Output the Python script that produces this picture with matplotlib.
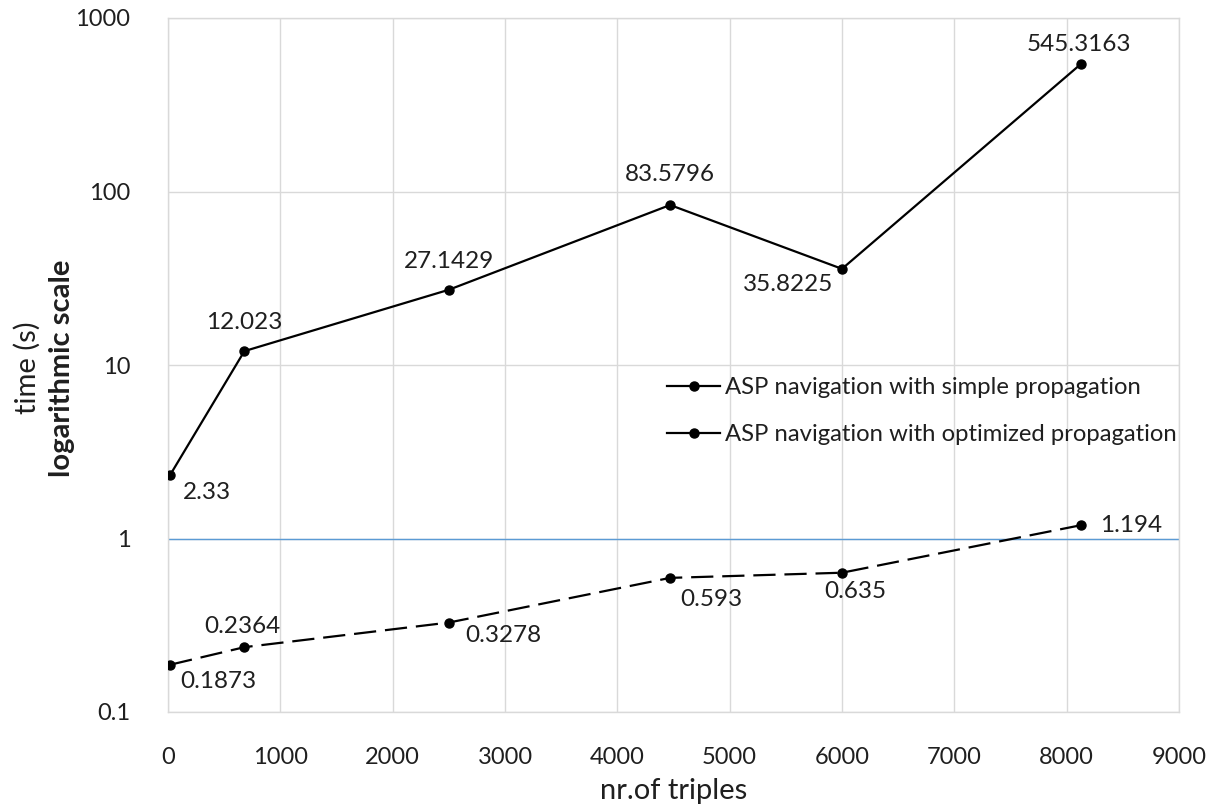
"""Runtime of ASP navigation vs number of triples (log scale)."""

import matplotlib
matplotlib.use("Agg")
import matplotlib.pyplot as plt
import matplotlib.ticker as mticker

# --- data ---
triples = [20, 680, 2500, 4470, 6000, 8130]
simple_time = [2.33, 12.023, 27.1429, 83.5796, 35.8225, 545.3163]
optimized_time = [0.1873, 0.2364, 0.3278, 0.593, 0.635, 1.194]
simple_labels = ["2.33", "12.023", "27.1429", "83.5796", "35.8225", "545.3163"]
optimized_labels = ["0.1873", "0.2364", "0.3278", "0.593", "0.635", "1.194"]

x_ticks = [0, 1000, 2000, 3000, 4000, 5000, 6000, 7000, 8000, 9000]
y_ticks = [0.1, 1, 10, 100, 1000]
y_tick_labels = ["0.1", "1", "10", "100", "1000"]

# --- style ---
FONT = "Lato"
FS_TICK = 17
FS_LABEL = 17.5
FS_LEGEND = 17.2
FS_TITLE = 21
GRID = "#d9d9d9"
BLUE = "#5b9bd5"
TEXT = "#1f1f1f"

plt.rcParams["font.family"] = [FONT, "DejaVu Sans"]

fig = plt.figure(figsize=(12.15, 8.07), dpi=100)
ax = fig.add_axes([168 / 1215, 1 - 712 / 807, (1179 - 168) / 1215, (712 - 18) / 807])

ax.set_yscale("log")
ax.set_xlim(0, 9000)
ax.set_ylim(0.1, 1000)

ax.grid(True, which="major", color=GRID, linewidth=1.0)
ax.set_axisbelow(True)
for sp in ax.spines.values():
    sp.set_color(GRID)
    sp.set_linewidth(1.0)

ax.axhline(1, color=BLUE, linewidth=1.0, zorder=1.5)

ax.xaxis.set_major_locator(mticker.FixedLocator(x_ticks))
ax.yaxis.set_major_locator(mticker.FixedLocator(y_ticks))
ax.yaxis.set_minor_locator(mticker.NullLocator())
ax.set_yticklabels(y_tick_labels)
ax.tick_params(axis="both", length=0, labelsize=FS_TICK, colors=TEXT)
ax.tick_params(axis="y", pad=27)
ax.tick_params(axis="x", pad=25)

ax.plot(triples, simple_time, color="black", linewidth=1.6, marker="o",
        markersize=6.5, label="ASP navigation with simple propagation", zorder=3)
ax.plot(triples, optimized_time, color="black", linewidth=1.6, marker="o",
        markersize=6.5, dashes=(10, 4), label="ASP navigation with optimized propagation",
        zorder=3)

# data label offsets in pixels (dx, dy, ha); dy positive = up
simple_offsets = [(13, -18, "left"), (0, 29, "center"), (0, 28, "center"),
                  (0, 31, "center"), (-54, -16, "center"), (-2, 19, "center")]
optimized_offsets = [(10, -17, "left"), (-2, 21, "center"), (16, -13, "left"),
                     (10, -22, "left"), (13, -19, "center"), (19, 0, "left")]

for xs, ys, labels, offs in [(triples, simple_time, simple_labels, simple_offsets),
                             (triples, optimized_time, optimized_labels, optimized_offsets)]:
    for x, y, lab, (dx, dy, ha) in zip(xs, ys, labels, offs):
        ax.annotate(lab, (x, y), xytext=(dx, dy), textcoords="offset pixels",
                    ha=ha, va="center", fontsize=FS_LABEL, color=TEXT)

leg = ax.legend(loc="upper left", bbox_to_anchor=(0.494, 0.482), frameon=False,
                fontsize=FS_LEGEND, handlelength=2.2, handletextpad=0.2, labelspacing=1.08,
                borderpad=0, borderaxespad=0)
for line in leg.get_lines():
    line.set_linestyle("-")
for t in leg.get_texts():
    t.set_color(TEXT)

fig.text(27 / 1215, 1 - 368 / 807, "time (s)", rotation=90, ha="center", va="center",
         fontsize=FS_TITLE, color=TEXT)
fig.text(62 / 1215, 1 - 368 / 807, "logarithmic scale", rotation=90, ha="center",
         va="center", fontsize=FS_TITLE, fontweight="bold", color=TEXT)
fig.text(674 / 1215, 1 - 791 / 807, "nr.of triples", ha="center", va="center",
         fontsize=FS_TITLE, color=TEXT)

fig.savefig("out.png", dpi=100)
